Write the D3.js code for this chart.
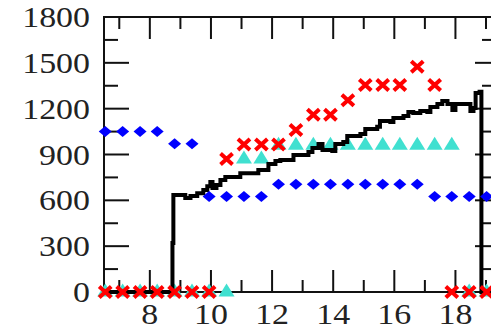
<!DOCTYPE html>
<html>
<head>
<meta charset="utf-8">
<script src="https://cdn.jsdelivr.net/npm/d3@7"></script>
<style>
	html, body { margin: 0; padding: 0; background: #fff; }
	svg { display: block; }
</style>
</head>
<body>
<svg id="plot" width="491" height="328"></svg>
<script>

function whenDocumentLoaded(action) {
	if (document.readyState === "loading") {
		document.addEventListener("DOMContentLoaded", action);
	} else {
		action();
	}
}

// sample times shared by the three marker series
const SAMPLE_X = [6.54, 7.11, 7.68, 8.24, 8.81, 9.38, 9.94, 10.51, 11.08, 11.65, 12.21, 12.78,
	13.35, 13.91, 14.48, 15.05, 15.62, 16.18, 16.75, 17.32, 17.88, 18.45, 19.02];

const BLUE_VALUES = [1050, 1050, 1050, 1050, 970, 970, 625, 625, 625, 625, 705, 705,
	705, 705, 705, 705, 705, 705, 705, 625, 625, 625, 625];

const RED_VALUES = [0, 0, 0, 0, 0, 0, 0, 870, 965, 965, 965, 1060,
	1160, 1160, 1255, 1355, 1355, 1355, 1475, 1355, 0, 0, 0];

const CYAN_VALUES = [0, 0, 0, 0, 0, 0, 0, 0, 870, 870, 960, 960,
	960, 960, 960, 960, 960, 960, 960, 960, 960, 0, 0];

// black measured curve
const LINE_X = [6.51, 8.70, 8.74, 8.77, 9.06, 9.16, 9.33, 9.55, 9.75, 9.88, 9.98, 10.05,
	10.18, 10.31, 10.47, 10.86, 10.96, 11.45, 11.55, 11.71, 11.88, 12.11, 12.27, 12.70,
	13.19, 13.32, 13.52, 13.65, 13.97, 14.07, 14.33, 14.46, 14.89, 15.05, 15.44, 15.53,
	15.87, 15.97, 16.30, 16.46, 16.62, 16.85, 17.08, 17.18, 17.41, 17.57, 17.74, 17.90,
	18.00, 18.39, 18.49, 18.59, 18.66, 18.79, 18.85, 19.36];
const LINE_Y = [0, 0, 320, 635, 635, 615, 628, 647, 667, 693, 720, 680,
	700, 733, 752, 752, 778, 778, 798, 798, 838, 857, 864, 897,
	916, 943, 969, 930, 923, 969, 982, 1021, 1034, 1067, 1081, 1120,
	1113, 1139, 1152, 1178, 1172, 1185, 1178, 1211, 1231, 1251, 1231, 1192,
	1231, 1231, 1185, 1205, 1303, 1310, 0, 0];

const X_MAJOR = [8, 10, 12, 14, 16, 18];
const X_MINOR = [7, 9, 11, 13, 15, 17, 19];
const Y_MAJOR = [0, 300, 600, 900, 1200, 1500, 1800];
const Y_MINOR = [150, 450, 750, 1050, 1350, 1650];

const LEFT = 104, RIGHT = 497, TOP = 17, BOTTOM = 292;
const FONT = '"Liberation Serif", "Times New Roman", "DejaVu Serif", serif';

whenDocumentLoaded(() => {
	const svg = d3.select('#plot');

	const x = d3.scaleLinear().domain([6.5, 19.36]).range([LEFT, RIGHT]);
	const y = d3.scaleLinear().domain([0, 1800]).range([BOTTOM, TOP]);

	// ticks, all pointing inward
	const ticks = svg.append('g').attr('stroke', '#111').attr('stroke-width', 2);
	const tick = (x1, y1, x2, y2) => ticks.append('line')
		.attr('x1', x1).attr('y1', y1).attr('x2', x2).attr('y2', y2);

	X_MAJOR.forEach(v => { tick(x(v), TOP, x(v), TOP + 22); tick(x(v), BOTTOM, x(v), BOTTOM - 22); });
	X_MINOR.forEach(v => { tick(x(v), TOP, x(v), TOP + 12); tick(x(v), BOTTOM, x(v), BOTTOM - 12); });
	Y_MAJOR.forEach(v => { tick(LEFT, y(v), LEFT + 25, y(v)); tick(RIGHT, y(v), RIGHT - 22, y(v)); });
	Y_MINOR.forEach(v => { tick(LEFT, y(v), LEFT + 14, y(v)); tick(RIGHT, y(v), RIGHT - 15, y(v)); });

	svg.append('rect')
		.attr('x', LEFT).attr('y', TOP)
		.attr('width', RIGHT - LEFT).attr('height', BOTTOM - TOP)
		.attr('fill', 'none').attr('stroke', '#111').attr('stroke-width', 2);

	// labels are a bit wide in the original, so stretch them horizontally
	svg.selectAll('.ylab').data(Y_MAJOR).enter().append('text')
		.attr('font-family', FONT).attr('font-size', 29).attr('fill', '#222')
		.attr('text-anchor', 'end')
		.attr('dy', '0.35em')
		.attr('transform', d => `translate(90,${y(d)}) scale(1.17,1)`)
		.text(d => d);

	svg.selectAll('.xlab').data(X_MAJOR).enter().append('text')
		.attr('font-family', FONT).attr('font-size', 29).attr('fill', '#222')
		.attr('text-anchor', 'middle')
		.attr('transform', d => `translate(${x(d)},324) scale(1.17,1)`)
		.text(d => d);

	const points = vals => SAMPLE_X.map((sx, i) => ({ x: sx, y: vals[i] }));

	// turquoise triangles
	svg.append('g').selectAll('path').data(points(CYAN_VALUES)).enter().append('path')
		.attr('d', 'M0,-8.5L8,4.5L-8,4.5Z')
		.attr('transform', d => `translate(${x(d.x)},${y(d.y)})`)
		.attr('fill', '#40e0d0');

	// black curve
	const line = d3.line().x(d => x(d[0])).y(d => y(d[1])).curve(d3.curveStepAfter);
	svg.append('path')
		.datum(LINE_X.map((lx, i) => [lx, LINE_Y[i]]))
		.attr('d', line)
		.attr('fill', 'none')
		.attr('stroke', '#000')
		.attr('stroke-width', 4);

	// red crosses
	svg.append('g').selectAll('path').data(points(RED_VALUES)).enter().append('path')
		.attr('d', 'M-6,-5.5L6,5.5M-6,5.5L6,-5.5')
		.attr('transform', d => `translate(${x(d.x)},${y(d.y)})`)
		.attr('stroke', '#ff0000')
		.attr('stroke-width', 4)
		.attr('fill', 'none');

	// blue diamonds
	svg.append('g').selectAll('path').data(points(BLUE_VALUES)).enter().append('path')
		.attr('d', 'M0,-5.5L6.5,0L0,5.5L-6.5,0Z')
		.attr('transform', d => `translate(${x(d.x)},${y(d.y)})`)
		.attr('fill', '#0000ff');
});
</script>
</body>
</html>
